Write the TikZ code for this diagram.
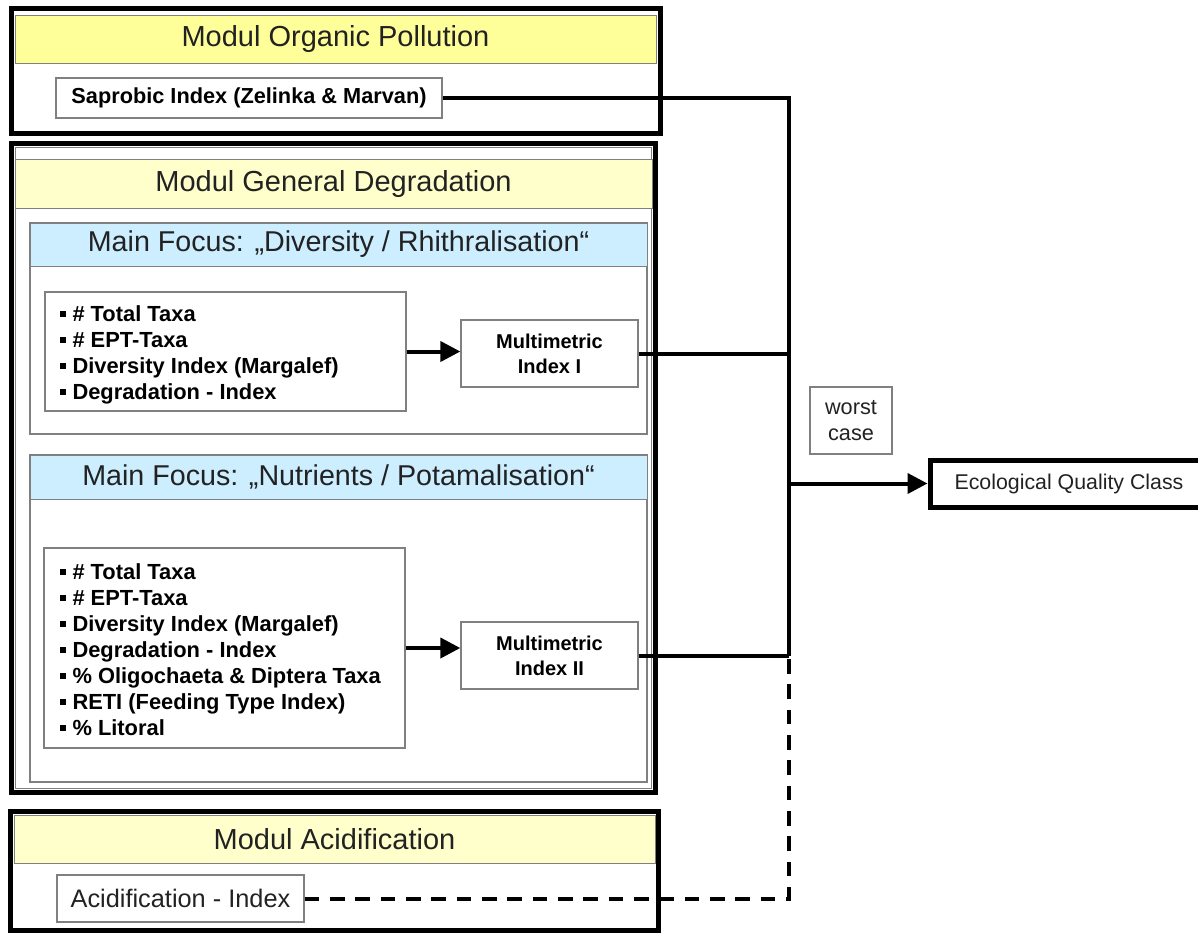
\documentclass[tikz,border=0pt]{standalone}
\usepackage{fontspec}
\setmainfont{Liberation Sans}
\usetikzlibrary{fit,arrows.meta}
\definecolor{hdryel}{HTML}{FFFF99}
\definecolor{hdrpale}{HTML}{FFFFCC}
\definecolor{hdrblue}{HTML}{CCEEFF}
\definecolor{txt}{HTML}{222222}
\definecolor{thingray}{HTML}{808080}
\newcommand{\sqb}{\rule[0.22em]{0.28em}{0.28em}\hspace{0.28em}}
\begin{document}
\begin{tikzpicture}[x=0.75pt,y=-0.75pt,
  modbox/.style={draw=black,line width=3.75pt,inner sep=0pt},
  hdr/.style={draw=thingray,line width=0.75pt,inner sep=0pt},
  hdrtext/.style={inner sep=0pt,text=txt,font=\fontsize{21.75}{26}\selectfont},
  focushdr/.style={draw=thingray,line width=0.75pt,inner sep=0pt,fill=hdrblue},
  thinbox/.style={draw=thingray,line width=1pt,inner sep=0pt},
  plaintext/.style={inner sep=0pt,text=txt,align=center},
  listtext/.style={anchor=west,align=left,inner sep=0pt,text=black,font=\bfseries\fontsize{16.4}{19.5}\selectfont},
  mitext/.style={inner sep=0pt,align=center,font=\bfseries\fontsize{15}{18.75}\selectfont,text=black},
  conn/.style={line width=3pt},
  arr/.style={line width=3pt,-{Triangle[length=15pt,width=15pt]}},
  dconn/.style={line width=3pt,dash pattern=on 11pt off 8pt}]
\useasboundingbox (0,0) rectangle (1198,932);
\fill[white] (0,0) rectangle (1198,932);

% Module Organic Pollution
\node[modbox, fit={(11,8)(660,133)}] (m1) {};
\node[hdr, fill=hdryel, fit={(15,15)(656,63)}] (h1) {};
\node[hdrtext] (h1t) at (h1.center) {Modul Organic Pollution};
\node[thinbox, fit={(56,78)(442,118)}] (sap) {};
\node[plaintext, text=black, font=\bfseries\fontsize{16.3}{19}\selectfont] (sapt) at (sap.center) {Saprobic Index (Zelinka \& Marvan)};

% Module General Degradation
\node[modbox, fit={(11,143)(655,792)}] (m2) {};
\node[draw=thingray, line width=0.75pt, inner sep=0pt, fit={(15,147)(651,788)}] (m2in) {};
\node[hdr, fill=hdrpale, fit={(15,159)(652,208)}] (h2) {};
\node[hdrtext] (h2t) at (h2.center) {Modul General Degradation};

\node[thinbox, fit={(30,223)(647,434)}] (f1) {};
\node[focushdr, fit={(30,223)(647,266)}] (f1h) {};
\node[hdrtext, font=\fontsize{21.5}{26}\selectfont] (f1t) at (f1h.center) {Main Focus: „Diversity / Rhithralisation“};
\node[thinbox, fit={(45,292)(406,411)}] (l1) {};
\node[listtext] (l1t) at (60,355) {\sqb\# Total Taxa\\\sqb\# EPT-Taxa\\\sqb Diversity Index (Margalef)\\\sqb Degradation - Index};
\node[thinbox, fit={(461,320)(638,387)}] (mi1) {};
\node[mitext] (mi1t) at (mi1.center) {Multimetric\\Index I};

\node[thinbox, fit={(30,455)(647,782)}] (f2) {};
\node[focushdr, fit={(30,455)(647,499)}] (f2h) {};
\node[hdrtext, font=\fontsize{21.5}{26}\selectfont] (f2t) at (f2h.center) {Main Focus: „Nutrients / Potamalisation“};
\node[thinbox, fit={(44,548)(405,748)}] (l2) {};
\node[listtext] (l2t) at (60,650) {\sqb\# Total Taxa\\\sqb\# EPT-Taxa\\\sqb Diversity Index (Margalef)\\\sqb Degradation - Index\\\sqb\% Oligochaeta \& Diptera Taxa\\\sqb RETI (Feeding Type Index)\\\sqb\% Litoral};
\node[thinbox, fit={(461,622)(638,689)}] (mi2) {};
\node[mitext] (mi2t) at (mi2.center) {Multimetric\\Index II};

% Module Acidification
\node[modbox, fit={(10,811)(658,930)}] (m3) {};
\node[hdr, fill=hdrpale, fit={(14,815)(655,863)}] (h3) {};
\node[hdrtext] (h3t) at (h3.center) {Modul Acidification};
\node[thinbox, fit={(57,875)(304,922)}] (acid) {};
\node[plaintext, font=\fontsize{19}{22}\selectfont] (acidt) at (acid.center) {Acidification - Index};

% worst case and result
\node[thinbox, fit={(810,387)(892,454)}] (worst) {};
\node[plaintext, font=\fontsize{16.3}{19.5}\selectfont] (worstt) at (worst.center) {worst\\case};
\node[modbox, fit={(930,460)(1205,507)}] (eqc) {};
\node[plaintext, font=\fontsize{16}{19}\selectfont] (eqct) at (1069,483.5) {Ecological Quality Class};

\coordinate (vx) at (789,483);

% connectors
\draw[arr] (l1.east) -- (l1.east -| mi1.west);
\draw[arr] (l2.east) -- (l2.east -| mi2.west);
\draw[conn] (sap.east) -| (vx |- mi2.east);
\draw[conn] (mi1.east) -- (vx |- mi1.east);
\draw[conn] (mi2.east) -- (vx |- mi2.east);
\draw[dconn] (acid.east) -| (vx |- mi2.east);
\draw[arr] (eqc.west -| vx) -- (eqc.west);
\end{tikzpicture}
\end{document}
